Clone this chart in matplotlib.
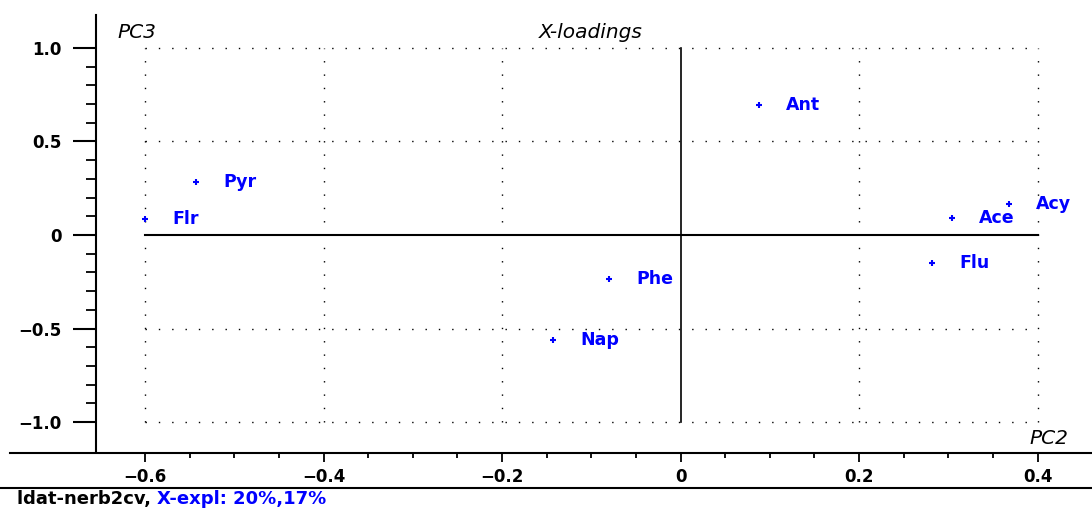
import matplotlib
matplotlib.use("Agg")
from matplotlib import pyplot as plt
from matplotlib.lines import Line2D
from matplotlib.ticker import FixedLocator, FixedFormatter
import numpy as np

# loadings (PC2, PC3)
names = ["Flr", "Pyr", "Ant", "Ace", "Acy", "Flu", "Phe", "Nap"]
pc2 = [-0.600, -0.543, 0.088, 0.304, 0.368, 0.282, -0.080, -0.143]
pc3 = [0.085, 0.284, 0.695, 0.093, 0.168, -0.149, -0.233, -0.559]

xticks = [-0.6, -0.4, -0.2, 0, 0.2, 0.4]
xticklabels = ["\u22120.6", "\u22120.4", "\u22120.2", "0", "0.2", "0.4"]
yticks = [-1.0, -0.5, 0, 0.5, 1.0]
yticklabels = ["\u22121.0", "\u22120.5", "0", "0.5", "1.0"]
xgrid = [-0.6, -0.4, -0.2, 0.2, 0.4]
ygrid = [-1.0, -0.5, 0.5, 1.0]

blue = "#0000ff"
W, H = 1092, 512

fig = plt.figure(figsize=(W / 100, H / 100), dpi=100)
ax = fig.add_axes([96 / W, 1 - 452 / H, 1 - 96 / W, (452 - 15) / H])
ax.set_xlim(-0.655, 0.461)
ax.set_ylim(-1.160, 1.176)

for s in ["top", "right", "bottom"]:
    ax.spines[s].set_visible(False)
ax.spines["left"].set_linewidth(1.5)

# dotted grid inside the -0.6..0.4 / -1..1 box
dots = (0, (1.0, 8.6))
for gx in xgrid:
    ax.plot([gx, gx], [-1, 1], color="black", lw=1.0, linestyle=dots)
for gy in ygrid:
    ax.plot([-0.6, 0.4], [gy, gy], color="black", lw=1.0, linestyle=dots)

# zero lines
ax.plot([-0.6, 0.4], [0, 0], color="black", lw=1.5)
ax.plot([0, 0], [-1, 1], color="black", lw=1.2)

# points and labels
ax.plot(pc2, pc3, linestyle="none", marker="+", ms=4, mew=1.5, color=blue)
for n, x, y in zip(names, pc2, pc3):
    ax.annotate(n, (x, y), xytext=(27, 0), textcoords="offset pixels",
                ha="left", va="center", color=blue, fontsize=12.5,
                fontweight="bold")

# ticks
ax.xaxis.set_major_locator(FixedLocator(xticks))
ax.xaxis.set_major_formatter(FixedFormatter(xticklabels))
ax.xaxis.set_minor_locator(FixedLocator(np.arange(-0.6, 0.41, 0.05)))
ax.yaxis.set_major_locator(FixedLocator(yticks))
ax.yaxis.set_major_formatter(FixedFormatter(yticklabels))
ax.yaxis.set_minor_locator(FixedLocator(np.arange(-1.0, 1.01, 0.1)))
ax.tick_params(axis="x", which="major", direction="out", length=7.5, width=1.3,
               pad=4, labelsize=12)
ax.tick_params(axis="x", which="minor", direction="out", length=4.5, width=1.3)
ax.tick_params(axis="y", which="major", direction="out", length=16.5, width=1.5,
               pad=8, labelsize=12)
ax.tick_params(axis="y", which="minor", direction="out", length=7.5, width=1.3)
for lab in ax.get_xticklabels() + ax.get_yticklabels():
    lab.set_fontweight("bold")

# titles
fig.text(117 / W, 1 - 33 / H, "PC3", style="italic", fontsize=14.5, va="center",
         ha="left")
fig.text(591 / W, 1 - 33 / H, "X-loadings", style="italic", fontsize=14.5,
         va="center", ha="center")
fig.text(1068 / W, 1 - 438 / H, "PC2", style="italic", fontsize=14.5,
         va="center", ha="right")

# horizontal frame lines across the bottom
fig.add_artist(Line2D([10 / W, 1], [1 - 453 / H, 1 - 453 / H], color="black", lw=1.5))
fig.add_artist(Line2D([0, 1], [1 - 488 / H, 1 - 488 / H], color="black", lw=1.5))

t1 = fig.text(17 / W, 1 - 499 / H, "ldat-nerb2cv, ", fontsize=13,
              fontweight="bold", va="center", ha="left")
fig.canvas.draw()
bb = t1.get_window_extent()
fig.text(bb.x1 / W, 1 - 499 / H, "X-expl: 20%,17%", fontsize=13,
         fontweight="bold", color=blue, va="center", ha="left")

fig.savefig("out.png", dpi=100)
